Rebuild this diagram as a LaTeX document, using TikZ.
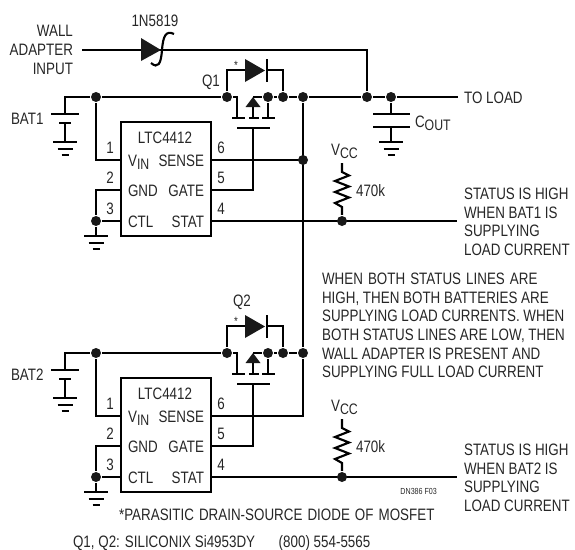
\documentclass[tikz,border=0pt]{standalone}
\usepackage{fontspec}
\setmainfont[FakeStretch=0.81]{Liberation Sans}
\usetikzlibrary{calc,positioning}

\newcommand{\lowtext}[1]{\raisebox{-2.6pt}{\fontsize{11.4}{14}\selectfont #1}}
\newcommand{\widespace}{\spaceskip=3.8pt\relax}

\begin{document}
\begin{tikzpicture}[x=0.75pt,y=-0.75pt,line width=1.6pt,
    every node/.style={font=\fontsize{12.4}{14}\selectfont,text=black!85,inner sep=0pt},
    dot/.style={circle,fill=black!90,minimum size=7.5pt,text width=0pt},
    icbox/.style={draw,minimum width=67.5pt,minimum height=85.5pt},
    label/.style={anchor=base west},
    rlabel/.style={anchor=base east},
    clabel/.style={anchor=base},
    note/.style={anchor=north west,align=left},
    pics/gnd/.style={code={
      \path[draw] (-12,0) -- (12,0);
      \path[draw] (-7.5,7) -- (7.5,7);
      \path[draw] (-3.5,13) -- (3.5,13);
    }}]

    \useasboundingbox (0,0) rectangle (575,550);

    % both battery blocks
    \foreach \y/\n in {0/1,-192/2} {
      \begin{scope}[yshift=\y pt]
      \node[dot] (BATDOT\n) at (96,97) {};
      \node[dot] (DRAIN\n) at (227,97) {};
      \node[dot] (BODY\n) at (268,97) {};
      \node[dot] (SRC\n) at (283,97) {};
      \node[dot] (SENSEDOT\n) at (303,97) {};
      \node[dot] (CTLDOT\n) at (96,221) {};
      \node[icbox] (IC\n) at (166,179) {};
      \coordinate (VIN\n) at (121,160);
      \coordinate (GND\n) at (121,190);
      \coordinate (CTL\n) at (121,221);
      \coordinate (SENSE\n) at (211,160);
      \coordinate (GATE\n) at (211,190);
      \coordinate (STAT\n) at (211,221);
      \coordinate (STATEND\n) at (457,221);
      \coordinate (PLUS\n) at (65,114);
      \coordinate (MINUS\n) at (65,123);
      \coordinate (EARTH\n) at (65,142);
      \coordinate (CHIP\n) at (96,236);
      \coordinate (GPLATE\n) at (253,128);

      % battery
      \path[draw] (BATDOT\n) -| (PLUS\n);
      \path[draw] (MINUS\n) -- (EARTH\n);
      \path[draw] (51,114) -- (79,114);
      \path[draw] (59,123) -- (71,123);
      \pic at (EARTH\n) {gnd};
      \node[label] (BAT\n) at (10,124) {BAT\n};

      % chip pins
      \path[draw] (BATDOT\n) |- (VIN\n);
      \path[draw] (GND\n) -| (CTLDOT\n);
      \path[draw] (CTLDOT\n) -- (CTL\n);
      \path[draw] (CTLDOT\n) -- (CHIP\n);
      \pic at (CHIP\n) {gnd};
      \path[draw] (GATE\n) -| (GPLATE\n);
      \path[draw] (STAT\n) -- (STATEND\n);
      \path[draw] (SENSE\n) -| (SENSEDOT\n);

      \node[clabel] (LTC\n) at (165,143) {LTC4412};
      \node[label] (VINTXT\n) at (127,166) {V\lowtext{IN}};
      \node[label] (GNDTXT\n) at (127,196) {GND};
      \node[label] (CTLTXT\n) at (127,227) {CTL};
      \node[rlabel] (SENSETXT\n) at (205,166) {SENSE};
      \node[rlabel] (GATETXT\n) at (205,196) {GATE};
      \node[rlabel] (STATTXT\n) at (205,227) {STAT};
      \foreach \p/\yy in {1/153,2/183,3/214} {
        \node[clabel] (PINL\p\n) at (110,\yy) {\p};
      }
      \foreach \p/\yy in {6/153,5/183,4/214} {
        \node[clabel] (PINR\p\n) at (221,\yy) {\p};
      }

      % mosfet
      \path[draw] (BATDOT\n) -- (DRAIN\n);
      \path[draw] (DRAIN\n) -- (237,97) -- (237,118);
      \path[draw] (232,118) -- (245,118);
      \path[draw] (249,118) -- (259,118);
      \path[draw] (262,118) -- (275,118);
      \path[draw] (237,128) -- (270,128);
      \path[draw] (BODY\n) -- (268,118);
      \path[draw] (253,118) -- (253,105);
      \path[fill=black!90] (253,97) -- (260.5,107) -- (245.5,107) -- cycle;
      \path[draw] (253,97) -- (BODY\n) -- (SRC\n) -- (SENSEDOT\n);

      % body diode
      \path[draw] (DRAIN\n) |- (246,70);
      \path[fill=black!90] (245,59) -- (265,70.5) -- (245,82) -- cycle;
      \path[draw] (267,59) -- (267,82);
      \path[draw] (267,70) -| (SRC\n);
      \node[clabel,font=\fontsize{9}{9}\selectfont] (STAR\n) at (236,69) {*};

      % status pull-up
      \node[dot] (STATDOT\n) at (342,221) {};
      \path[draw] (342,163) -- (342,172) -- (349,175.5) -- (335,181) -- (349,186.5)
        -- (335,192) -- (349,197.5) -- (335,203) -- (342,207) -- (STATDOT\n);
      \node[label] (VCC\n) at (330,155) {V\lowtext{CC}};
      \node[label] (RTXT\n) at (355,196) {470k};
      \end{scope}
    }

    \node[label] (Q1) at (201,86) {Q1};
    \node[label] (Q2) at (232,306) {Q2};

    % sense line joining the two blocks
    \path[draw] (SENSEDOT1) -- (SENSEDOT2);
    \node[dot] (SENSEJOIN) at (303,160) {};

    % wall adapter
    \coordinate (WALL) at (82,50);
    \node[dot] (WALLDOT) at (367,97) {};
    \node[dot] (CAPDOT) at (391,97) {};
    \coordinate (LOAD) at (458,97);
    \path[draw] (SENSEDOT1) -- (WALLDOT) -- (CAPDOT) -- (LOAD);
    \path[draw] (WALL) -| (WALLDOT);
    \path[fill=black!90] (141,38) -- (161,50) -- (141,61) -- cycle;
    \path[draw] (174,34) .. controls (166,30) and (163,36) .. (162,50)
      .. controls (161,64) and (158,69) .. (151,63);
    \node[rlabel] (WALLTXT) at (74,36) {WALL};
    \node[rlabel] (ADAPTER) at (74,55) {ADAPTER};
    \node[rlabel] (INPUT) at (74,74) {INPUT};
    \node[clabel] (DIODE) at (155,26) {1N5819};
    \node[label] (TOLOAD) at (463,103) {TO LOAD};

    % output capacitor
    \coordinate (CAPTOP) at (391,114);
    \coordinate (CAPBOT) at (391,127);
    \coordinate (CAPGND) at (391,142);
    \path[draw] (CAPDOT) -- (CAPTOP);
    \path[draw] (CAPBOT) -- (CAPGND);
    \path[draw] (373,114) -- (410,114);
    \path[draw] (373,127) -- (410,127);
    \pic at (CAPGND) {gnd};
    \node[label] (COUT) at (414,127) {C\lowtext{OUT}};

    % notes
    \node[note] (STATUS1) at (463,187) {STATUS IS HIGH\\WHEN BAT1 IS\\SUPPLYING\\LOAD CURRENT};
    \node[note] (STATUS2) at (463,443) {STATUS IS HIGH\\WHEN BAT2 IS\\SUPPLYING\\LOAD CURRENT};
    \node[note] (BOTH) at (321,272) {\widespace WHEN BOTH STATUS LINES ARE\\HIGH, THEN BOTH BATTERIES ARE\\SUPPLYING LOAD CURRENTS. WHEN\\BOTH STATUS LINES ARE LOW, THEN\\WALL ADAPTER IS PRESENT AND\\SUPPLYING FULL LOAD CURRENT};
    \node[rlabel,font=\fontsize{6.6}{7}\selectfont] (DN) at (438,494) {DN386 F03};
    \node[label] (PARASITIC) at (118,520) {\widespace *PARASITIC DRAIN-SOURCE DIODE OF MOSFET};
    \node[label] (PARTS) at (72,547) {Q1, Q2: SILICONIX Si4953DY\hspace{1.2em} (800) 554-5565};
\end{tikzpicture}
\end{document}
